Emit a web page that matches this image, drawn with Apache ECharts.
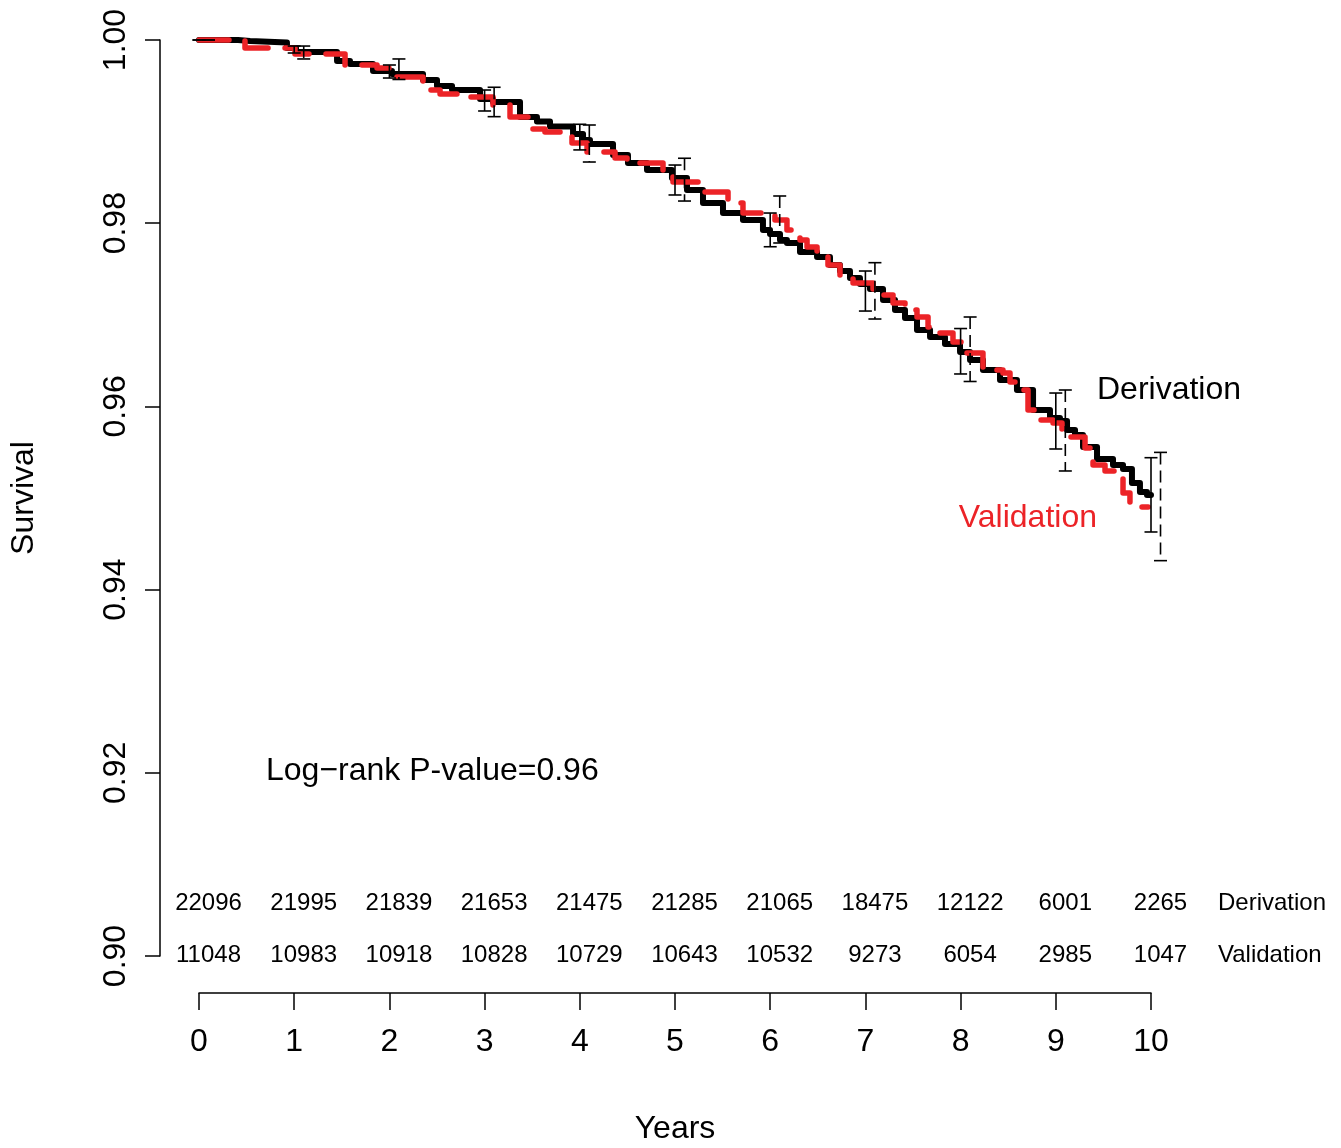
<!DOCTYPE html>
<html>
<head>
<meta charset="utf-8">
<script src="https://cdn.jsdelivr.net/npm/echarts@6/dist/echarts.min.js"></script>
<style>
html,body{margin:0;padding:0;background:#fff;}
#chart{width:1341px;height:1148px;}
</style>
</head>
<body>
<div id="chart"></div>
<script>
// ---- data ----
const years = [0,1,2,3,4,5,6,7,8,9,10];

const derivTime = [0,0.410,0.536,0.924,1.019,1.450,1.586,1.828,2.027,2.353,2.500,2.658,2.952,3.088,3.372,3.550,3.687,3.929,4.034,4.107,4.349,4.506,4.706,4.968,5.126,5.294,5.504,5.714,5.924,5.998,6.103,6.176,6.313,6.492,6.628,6.733,6.838,6.943,7.048,7.185,7.311,7.416,7.542,7.679,7.836,7.994,8.099,8.235,8.414,8.592,8.761,8.939,9.044,9.118,9.202,9.286,9.433,9.601,9.706,9.800,9.884,9.958,10.0];
const derivSurv = [1.0,0.99989,0.99973,0.99913,0.99869,0.99771,0.99738,0.99662,0.99629,0.99563,0.99498,0.99454,0.99356,0.99323,0.99159,0.99110,0.99056,0.98974,0.98908,0.98865,0.98745,0.98657,0.98581,0.98493,0.98362,0.98221,0.98111,0.98035,0.97926,0.97882,0.97817,0.97784,0.97686,0.97631,0.97544,0.97478,0.97402,0.97336,0.97282,0.97162,0.97052,0.96965,0.96834,0.96758,0.96681,0.96594,0.96507,0.96397,0.96288,0.96179,0.95961,0.95873,0.95841,0.95742,0.95688,0.95557,0.95426,0.95360,0.95317,0.95164,0.95066,0.95033,0.95033];

const validTime = [0,0.483,1.008,1.534,1.870,2.059,2.353,2.532,2.742,3.088,3.267,3.456,3.634,3.918,4.076,4.370,4.496,4.874,4.979,5.294,5.557,5.714,6.050,6.176,6.313,6.387,6.492,6.607,6.733,6.870,7.080,7.290,7.416,7.542,7.658,7.784,7.920,8.025,8.235,8.445,8.519,8.592,8.708,8.834,8.971,9.065,9.307,9.391,9.517,9.643,9.706,9.779,9.970];
const validSurv = [1.0,0.99913,0.99847,0.99727,0.99694,0.99596,0.99454,0.99410,0.99378,0.99290,0.99159,0.99028,0.98996,0.98876,0.98777,0.98712,0.98657,0.98559,0.98450,0.98341,0.98221,0.98111,0.98035,0.97926,0.97817,0.97740,0.97631,0.97544,0.97413,0.97347,0.97216,0.97129,0.97052,0.96976,0.96867,0.96801,0.96703,0.96583,0.96397,0.96365,0.96266,0.96179,0.95961,0.95852,0.95819,0.95666,0.95546,0.95360,0.95295,0.95229,0.95055,0.94902,0.94902];

const derivLower = [1,0.99858,0.99585,0.99225,0.98800,0.98308,0.97743,0.97041,0.96354,0.95535,0.94629];
const derivUpper = [1,0.99934,0.99727,0.99454,0.99080,0.98635,0.98111,0.97478,0.96850,0.96146,0.95440];
const validLower = [1,0.99793,0.99569,0.99163,0.98668,0.98242,0.97784,0.96954,0.96272,0.95295,0.94316];
const validUpper = [1,0.99934,0.99793,0.99484,0.99072,0.98709,0.98297,0.97569,0.96976,0.96179,0.95498];

const atRiskDeriv = [22096,21995,21839,21653,21475,21285,21065,18475,12122,6001,2265];
const atRiskValid = [11048,10983,10918,10828,10729,10643,10532,9273,6054,2985,1047];

// ---- build step series ----
function stepData(ts, ss){
  const out = [[ts[0], ss[0]]];
  for (let i = 1; i < ts.length; i++){
    out.push([ts[i], ss[i-1]]);
    out.push([ts[i], ss[i]]);
  }
  return out;
}

const RED = '#ec2327';
const FONT = 'Liberation Sans, Arial, Helvetica, sans-serif';
const VSHIFT = 0.1;

function errBarRender(shift, dashed){
  return function(params, api){
    const t = api.value(0), lo = api.value(1), hi = api.value(2);
    const pLo = api.coord([t + shift, lo]);
    const pHi = api.coord([t + shift, hi]);
    const x = pLo[0], hw = 6.5;
    const st = {stroke:'#000', lineWidth:1.6};
    const children = [
      {type:'line', shape:{x1:x, y1:pHi[1], x2:x, y2:pLo[1]},
       style: Object.assign({}, st, dashed ? {lineDash:[12,6]} : {})},
      {type:'line', shape:{x1:x-hw, y1:pHi[1], x2:x+hw, y2:pHi[1]}, style: st},
      {type:'line', shape:{x1:x-hw, y1:pLo[1], x2:x+hw, y2:pLo[1]}, style: st}
    ];
    return {type:'group', children};
  };
}

const chart = echarts.init(document.getElementById('chart'), null, {renderer:'canvas'});

const option = {
  backgroundColor:'#fff',
  animation:false,
  grid:{left:199, right:190, top:40, bottom:192, containLabel:false, outerBoundsMode:'none'},
  xAxis:{
    type:'value', min:0, max:10, interval:1, offset:37,
    axisLine:{show:true, onZero:false, lineStyle:{color:'#000', width:1.5}},
    axisTick:{show:true, length:17, lineStyle:{color:'#000', width:1.5}},
    axisLabel:{color:'#000', fontSize:32, fontFamily:FONT, margin:33},
    splitLine:{show:false},
    name:'Years', nameLocation:'middle', nameGap:120,
    nameTextStyle:{color:'#000', fontSize:32, fontFamily:FONT}
  },
  yAxis:{
    type:'value', min:0.9, max:1.0, interval:0.02, offset:39,
    axisLine:{show:true, onZero:false, lineStyle:{color:'#000', width:1.5}},
    axisTick:{show:true, length:15, lineStyle:{color:'#000', width:1.5}},
    axisLabel:{color:'#000', fontSize:32, fontFamily:FONT, rotate:90, margin:28,
      formatter: v => Number(v).toFixed(2)},
    splitLine:{show:false},
    name:'Survival', nameLocation:'middle', nameGap:120, nameRotate:90,
    nameTextStyle:{color:'#000', fontSize:32, fontFamily:FONT}
  },
  series:[
    {type:'line', name:'Derivation', data:stepData(derivTime, derivSurv), showSymbol:false, clip:false,
     lineStyle:{color:'#000', width:6, cap:'round', join:'round'}, z:2},
    {type:'line', name:'Validation', data:stepData(validTime, validSurv), showSymbol:false, clip:false,
     lineStyle:{color:RED, width:5.5, type:[30,17], cap:'round', join:'round'}, z:3},
    {type:'custom', name:'derivCI', clip:false, z:4,
     data: years.map((y,i)=>[y, derivLower[i], derivUpper[i]]),
     renderItem: errBarRender(0, false)},
    {type:'custom', name:'validCI', clip:false, z:4,
     data: years.map((y,i)=>[y, validLower[i], validUpper[i]]),
     renderItem: errBarRender(VSHIFT, true)}
  ]
};
chart.setOption(option);

// ---- texts (number at risk, labels) ----
const g = [];
const rowY1 = 903, rowY2 = 955;
years.forEach((y,i)=>{
  const x = chart.convertToPixel({xAxisIndex:0}, y + VSHIFT);
  g.push({type:'text', x:x, y:rowY1, style:{text:String(atRiskDeriv[i]), fill:'#000', font:'24px '+FONT, textAlign:'center', textVerticalAlign:'middle'}});
  g.push({type:'text', x:x, y:rowY2, style:{text:String(atRiskValid[i]), fill:'#000', font:'24px '+FONT, textAlign:'center', textVerticalAlign:'middle'}});
});
g.push({type:'text', x:1218, y:rowY1, style:{text:'Derivation', fill:'#000', font:'24px '+FONT, textAlign:'left', textVerticalAlign:'middle'}});
g.push({type:'text', x:1218, y:rowY2, style:{text:'Validation', fill:'#000', font:'24px '+FONT, textAlign:'left', textVerticalAlign:'middle'}});
g.push({type:'text', x:266, y:771, style:{text:'Log\u2212rank P-value=0.96', fill:'#000', font:'32px '+FONT, textAlign:'left', textVerticalAlign:'middle'}});
g.push({type:'text', x:1097, y:390, style:{text:'Derivation', fill:'#000', font:'32px '+FONT, textAlign:'left', textVerticalAlign:'middle'}});
g.push({type:'text', x:1097, y:518, style:{text:'Validation', fill:RED, font:'32px '+FONT, textAlign:'right', textVerticalAlign:'middle'}});
chart.setOption({graphic: g});
</script>
</body>
</html>
